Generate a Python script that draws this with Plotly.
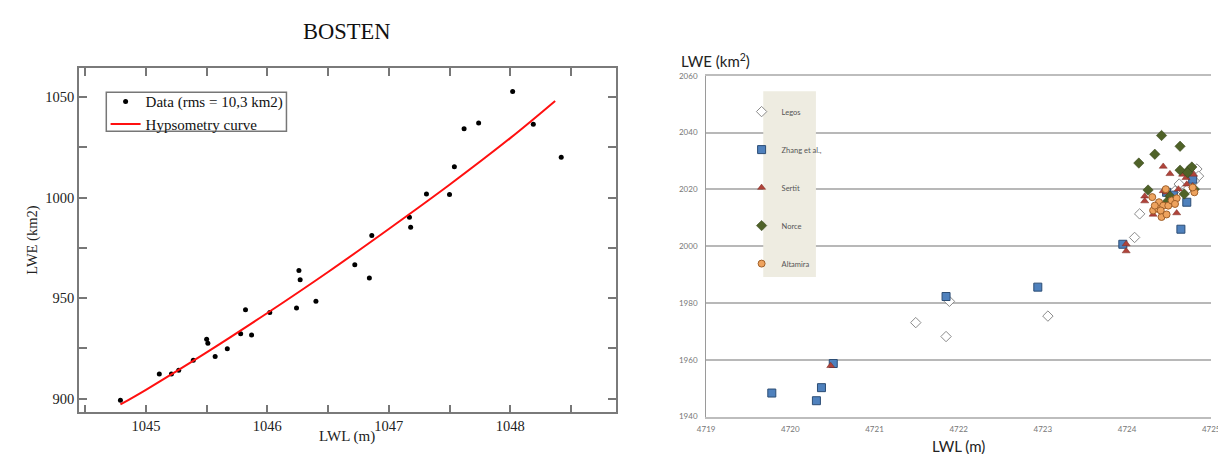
import plotly.graph_objects as go

# ---------------- Left panel data (BOSTEN) ----------------
lwl_data = [1044.79, 1045.11, 1045.21, 1045.27, 1045.39, 1045.50, 1045.51, 1045.57, 1045.67, 1045.78,
            1045.82, 1045.87, 1046.02, 1046.24, 1046.26, 1046.27, 1046.40, 1046.72, 1046.84, 1046.86,
            1047.17, 1047.18, 1047.31, 1047.50, 1047.54, 1047.62, 1047.74, 1048.02, 1048.19, 1048.42]
lwe_data = [899.2, 912.2, 912.2, 914.1, 919.1, 929.5, 927.6, 920.9, 924.8, 932.3,
            944.2, 931.6, 942.8, 945.1, 963.8, 959.1, 948.4, 966.6, 960.0, 981.2,
            990.2, 985.2, 1001.8, 1001.5, 1015.4, 1034.2, 1037.1, 1052.8, 1036.5, 1020.1]

curve_lwl = [1044.79, 1045.0, 1045.5, 1046.0, 1046.5, 1047.0, 1047.5, 1048.0, 1048.37]
curve_lwe = [897.1, 904.4, 923.0, 942.6, 963.0, 984.4, 1006.4, 1029.6, 1048.1]

left_xtickvals = [1045, 1046, 1047, 1048]
left_ytickvals = [900, 950, 1000, 1050]

# ---------------- Right panel data ----------------
legos_lwl = [4721.49, 4721.85, 4721.89, 4723.06, 4724.09, 4724.15, 4724.62, 4724.83, 4724.85, 4724.72, 4724.57, 4724.80]
legos_lwe = [1973.1, 1968.2, 1980.6, 1975.4, 2003.1, 2011.4, 2021.9, 2027.2, 2024.7, 2020.1, 2019.5, 2023.0]

zhang_lwl = [4719.78, 4720.31, 4720.37, 4720.51, 4721.85, 4722.94, 4723.95, 4724.64, 4724.71, 4724.47, 4724.55, 4724.78]
zhang_lwe = [1948.3, 1945.6, 1950.2, 1958.7, 1982.3, 1985.6, 2000.7, 2006.0, 2015.5, 2019.0, 2018.0, 2023.6]

sertit_lwl = [4720.48, 4723.99, 4723.99, 4724.43, 4724.51, 4724.66, 4724.70, 4724.79, 4724.21, 4724.21,
              4724.31, 4724.59, 4724.43, 4724.47, 4724.71, 4724.78, 4724.61]
sertit_lwe = [1957.9, 2000.8, 1998.3, 2028.1, 2025.5, 2025.3, 2024.1, 2025.3, 2017.6, 2015.9,
              2011.2, 2011.7, 2019.5, 2019.0, 2021.8, 2021.2, 2020.1]

norce_lwl = [4724.41, 4724.63, 4724.33, 4724.14, 4724.63, 4724.74, 4724.77, 4724.72, 4724.25, 4724.51,
             4724.68, 4724.80, 4724.47]
norce_lwe = [2039.0, 2035.2, 2032.4, 2029.3, 2026.8, 2027.0, 2027.9, 2025.9, 2019.8, 2017.6,
             2018.4, 2020.1, 2015.5]

altamira_lwl = [4724.30, 4724.38, 4724.31, 4724.37, 4724.41, 4724.47, 4724.43, 4724.49, 4724.53, 4724.46,
                4724.59, 4724.33, 4724.80, 4724.78, 4724.57, 4724.40]
altamira_lwe = [2017.3, 2015.5, 2012.6, 2013.2, 2010.3, 2011.2, 2014.3, 2014.3, 2016.1, 2020.1,
                2016.9, 2014.3, 2019.0, 2020.7, 2014.9, 2012.6]

right_xtickvals = [4719, 4720, 4721, 4722, 4723, 4724, 4725]
right_ytickvals = [1940, 1960, 1980, 2000, 2020, 2040, 2060]

W, H = 1226, 454


def px_x(p):
    return p / W


def px_y(p):
    return (H - p) / H


serif = "Liberation Serif, Times New Roman, serif"
sans = "Lato, Open Sans, sans-serif"

fig = go.Figure()

# Left panel traces
fig.add_trace(go.Scatter(x=lwl_data, y=lwe_data, mode="markers", name="Data (rms = 10,3 km2)",
                         marker=dict(color="black", size=5), xaxis="x", yaxis="y", legend="legend"))
fig.add_trace(go.Scatter(x=curve_lwl, y=curve_lwe, mode="lines", name="Hypsometry curve",
                         line=dict(color="#ff1010", width=2, shape="spline"),
                         xaxis="x", yaxis="y", legend="legend"))

# Right panel traces
series = [
    ("Legos", legos_lwl, legos_lwe, dict(symbol="diamond", color="white", size=8,
                                          line=dict(color="#8a8a8a", width=1))),
    ("Zhang et al.,", zhang_lwl, zhang_lwe, dict(symbol="square", color="#4f81bd", size=8,
                                                  line=dict(color="#2c4d75", width=1))),
    ("Sertit", sertit_lwl, sertit_lwe, dict(symbol="triangle-up", color="#b0433a", size=7,
                                             line=dict(color="#7a2a22", width=0.5))),
    ("Norce", norce_lwl, norce_lwe, dict(symbol="diamond", color="#4f6228", size=8,
                                          line=dict(color="#34421a", width=0.5))),
    ("Altamira", altamira_lwl, altamira_lwe, dict(symbol="circle", color="#eea35e", size=7,
                                                   line=dict(color="#a0602a", width=1))),
]
for name, xs, ys, mk in series:
    fig.add_trace(go.Scatter(x=xs, y=ys, mode="markers", name=name, marker=mk,
                             xaxis="x2", yaxis="y2", legend="legend2", legendgroup=name))

tick_common = dict(ticks="inside", ticklen=8, tickwidth=1.5, tickcolor="#777",
                   showline=True, linecolor="#7a7a7a", linewidth=1.5, mirror="allticks",
                   showgrid=False, zeroline=False,
                   tickfont=dict(family=serif, size=14.5, color="#222"))

fig.update_layout(
    width=W, height=H,
    margin=dict(l=0, r=0, t=0, b=0),
    paper_bgcolor="white", plot_bgcolor="white",
    showlegend=True,
    xaxis=dict(domain=[px_x(63), px_x(608.3)], range=[1044.449, 1048.87],
               tickvals=left_xtickvals, anchor="y",
               minor=dict(dtick=0.5, ticks="inside", ticklen=8, tickwidth=1.5, tickcolor="#777",
                          showgrid=False),
               **tick_common),
    yaxis=dict(domain=[px_y(408.3), px_y(56.2)], range=[893.2, 1064.5],
               tickvals=left_ytickvals, anchor="x",
               minor=dict(dtick=25, ticks="inside", ticklen=8, tickwidth=1.5, tickcolor="#777",
                          showgrid=False),
               **tick_common),
    xaxis2=dict(domain=[px_x(700), px_x(1213)], range=[4719, 4725],
                tickvals=right_xtickvals, ticks="", ticklabelstandoff=4,
                showline=True, linecolor="#bdbdbd", linewidth=1.5, mirror=True,
                showgrid=False, zeroline=False,
                tickfont=dict(family=sans, size=8, color="#777"), anchor="y2"),
    yaxis2=dict(domain=[px_y(412.7), px_y(64.3)], range=[1940, 2060],
                tickvals=right_ytickvals, ticks="", ticklabelstandoff=6,
                showline=True, linecolor="#9a9a9a", linewidth=1,
                showgrid=True, gridcolor="#b8b8b8", gridwidth=1.5, zeroline=False,
                tickfont=dict(family=sans, size=8, color="#777"), anchor="x2"),
    legend=dict(x=px_x(90), y=px_y(74), xanchor="left", yanchor="top",
                bgcolor="rgba(0,0,0,0)", borderwidth=0,
                font=dict(family=serif, size=15, color="#111"), itemwidth=30),
    legend2=dict(x=px_x(736), y=px_y(86), xanchor="left", yanchor="top",
                 bgcolor="rgba(0,0,0,0)", borderwidth=0, tracegroupgap=19,
                 font=dict(family=sans, size=7.5, color="#555"), itemwidth=30),
    shapes=[
        dict(type="rect", xref="paper", yref="paper",
             x0=px_x(90.7), x1=px_x(273.7), y0=px_y(121), y1=px_y(81),
             line=dict(color="#777", width=1.5), fillcolor="rgba(0,0,0,0)", layer="above"),
        dict(type="rect", xref="x2 domain", yref="y2 domain",
             x0=(758 - 700) / 513, x1=(811.5 - 700) / 513,
             y0=(412.7 - 270) / 348.4, y1=(412.7 - 80) / 348.4,
             line=dict(width=0), fillcolor="#eeece1", layer="above"),
    ],
    annotations=[
        dict(text="BOSTEN", x=px_x(335.6), y=px_y(19), xref="paper", yref="paper",
             showarrow=False, font=dict(family=serif, size=22.5, color="#111"),
             xanchor="center", yanchor="middle"),
        dict(text="LWL (m)", x=px_x(335.6), y=px_y(433.3), xref="paper", yref="paper",
             showarrow=False, font=dict(family=serif, size=15, color="#222"),
             xanchor="center", yanchor="middle"),
        dict(text="LWE (km2)", x=px_x(15.5), y=px_y(231.7), xref="paper", yref="paper",
             showarrow=False, textangle=-90, font=dict(family=serif, size=14.5, color="#222"),
             xanchor="center", yanchor="middle"),
        dict(text="LWE (km<sup>2</sup>)", x=px_x(672), y=px_y(48.5), xref="paper", yref="paper",
             showarrow=False, font=dict(family=sans, size=15, color="#222"),
             xanchor="left", yanchor="middle"),
        dict(text="LWL (m)", x=px_x(956), y=px_y(443), xref="paper", yref="paper",
             showarrow=False, font=dict(family=sans, size=15, color="#222"),
             xanchor="center", yanchor="middle"),
    ],
)

fig.write_html("out.html")
